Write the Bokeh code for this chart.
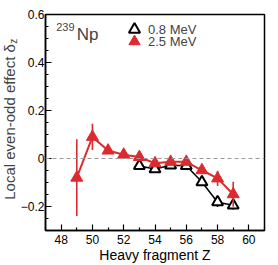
import numpy as np
from bokeh.plotting import figure
from bokeh.models import (ColumnDataSource, Span, Label, Legend, LegendItem,
                          FixedTicker, Range1d)
from bokeh.embed import file_html
from bokeh.resources import INLINE

# ---- data ----
z_low = [53, 54, 55, 56, 57, 58, 59]
d_low = [-0.031, -0.044, -0.028, -0.030, -0.098, -0.182, -0.195]
e_low = [0.008, 0.008, 0.006, 0.008, 0.012, 0.020, 0.018]

z_high = [49, 50, 51, 52, 53, 54, 55, 56, 57, 58, 59]
d_high = [-0.080, 0.090, 0.033, 0.016, 0.006, -0.020, -0.014, -0.014, -0.049, -0.083, -0.149]
e_high = [0.160, 0.055, 0.012, 0.008, 0.008, 0.008, 0.008, 0.010, 0.012, 0.032, 0.052]

x_major = [48, 50, 52, 54, 56, 58, 60]
x_minor = [47, 49, 51, 53, 55, 57, 59, 61]
y_major = [-0.2, 0.0, 0.2, 0.4, 0.6]
y_labels = {-0.2: "\u22120.2", 0.0: "0", 0.2: "0.2", 0.4: "0.4", 0.6: "0.6"}

RED = "#dc2a2e"
FONT = "Liberation Sans"

src_low = ColumnDataSource(dict(z=z_low, d=d_low,
                                lo=list(np.array(d_low) - np.array(e_low)),
                                hi=list(np.array(d_low) + np.array(e_low))))
src_high = ColumnDataSource(dict(z=z_high, d=d_high,
                                 lo=list(np.array(d_high) - np.array(e_high)),
                                 hi=list(np.array(d_high) + np.array(e_high))))

p = figure(width=278, height=265, output_backend="svg", toolbar_location=None,
           x_range=Range1d(47, 61), y_range=Range1d(-0.3, 0.6),
           min_border_left=42, min_border_right=14, min_border_top=14, min_border_bottom=33)
p.xgrid.visible = False
p.ygrid.visible = False
p.outline_line_color = "black"
p.outline_line_width = 1.5
p.background_fill_color = "white"
p.border_fill_color = "white"

for ax in (p.xaxis[0], p.yaxis[0]):
    ax.axis_line_width = 1.5
    ax.major_tick_in = 6
    ax.major_tick_out = 0
    ax.minor_tick_in = 3
    ax.minor_tick_out = 0
    ax.major_tick_line_width = 1.2
    ax.minor_tick_line_width = 1.2
    ax.major_label_text_font = FONT
    ax.major_label_text_font_size = "12px"
    ax.major_label_text_color = "black"
    ax.major_label_standoff = 4
    ax.axis_label_text_font = FONT
    ax.axis_label_text_font_style = "normal"
    ax.axis_label_text_color = "black"
    ax.axis_label_standoff = 0

p.xaxis.ticker = FixedTicker(ticks=x_major, minor_ticks=x_minor)
p.yaxis.ticker = FixedTicker(ticks=y_major,
                             minor_ticks=list(np.round(np.arange(-0.3, 0.601, 0.05), 2)))
p.yaxis.major_label_overrides = y_labels
p.yaxis.major_label_standoff = 1

p.xaxis.axis_label = "Heavy fragment Z"
p.xaxis.axis_label_text_font_size = "14px"

# y title "Local even-odd effect δ_z" as side-panel annotations placed via the plot's scales
p.add_layout(Label(x=44.69, y=-0.172, text="Local even-odd effect \u03b4", text_font=FONT,
                   text_font_size="15px", angle=np.pi / 2, text_align="left",
                   text_baseline="middle"), "left")
p.add_layout(Label(x=44.94, y=0.478, text="z", text_font=FONT, text_font_size="10px",
                   angle=np.pi / 2, text_align="left", text_baseline="middle"), "above")

p.add_layout(Span(location=0, dimension="width", line_color="#9a9a9a",
                  line_dash="4 3", line_width=1))

# low-energy series (black, open triangles)
p.segment(x0="z", y0="lo", x1="z", y1="hi", source=src_low, line_color="black", line_width=1.6)
l_low = p.line("z", "d", source=src_low, line_color="black", line_width=1.5)
m_low = p.scatter("z", "d", source=src_low, marker="triangle", size=11,
                  fill_color="white", line_color="black", line_width=2)

# high-energy series (red, filled triangles)
p.segment(x0="z", y0="lo", x1="z", y1="hi", source=src_high, line_color=RED, line_width=1.6)
l_high = p.line("z", "d", source=src_high, line_color=RED, line_width=2)
m_high = p.scatter("z", "d", source=src_high, marker="triangle", size=12,
                   fill_color=RED, line_color=RED, line_width=1)

# legend-only short line stubs
leg_l_low = p.line(x=[], y=[], line_color="black", line_width=1.5, line_dash="0 7 14 100")
leg_l_high = p.line(x=[], y=[], line_color=RED, line_width=2, line_dash="0 7 14 100")

common = dict(glyph_width=28, glyph_height=28, padding=0, margin=0, label_standoff=0,
              label_text_font=FONT, label_text_font_size="13px",
              border_line_color=None, background_fill_alpha=0)
p.add_layout(Legend(items=[LegendItem(label="0.8 MeV", renderers=[leg_l_low, m_low])],
                    location=(75, 187), **common))
p.add_layout(Legend(items=[LegendItem(label="2.5 MeV", renderers=[leg_l_high, m_high])],
                    location=(75, 175), **common))

# nucleus label
p.add_layout(Label(x=10.7, y=203.7, x_units="screen", y_units="screen", text="239",
                   text_font=FONT, text_font_size="11px", text_baseline="alphabetic"))
p.add_layout(Label(x=31.3, y=196.5, x_units="screen", y_units="screen", text="Np",
                   text_font=FONT, text_font_size="17px", text_baseline="alphabetic"))

open("out.html", "w").write(file_html(p, INLINE))
